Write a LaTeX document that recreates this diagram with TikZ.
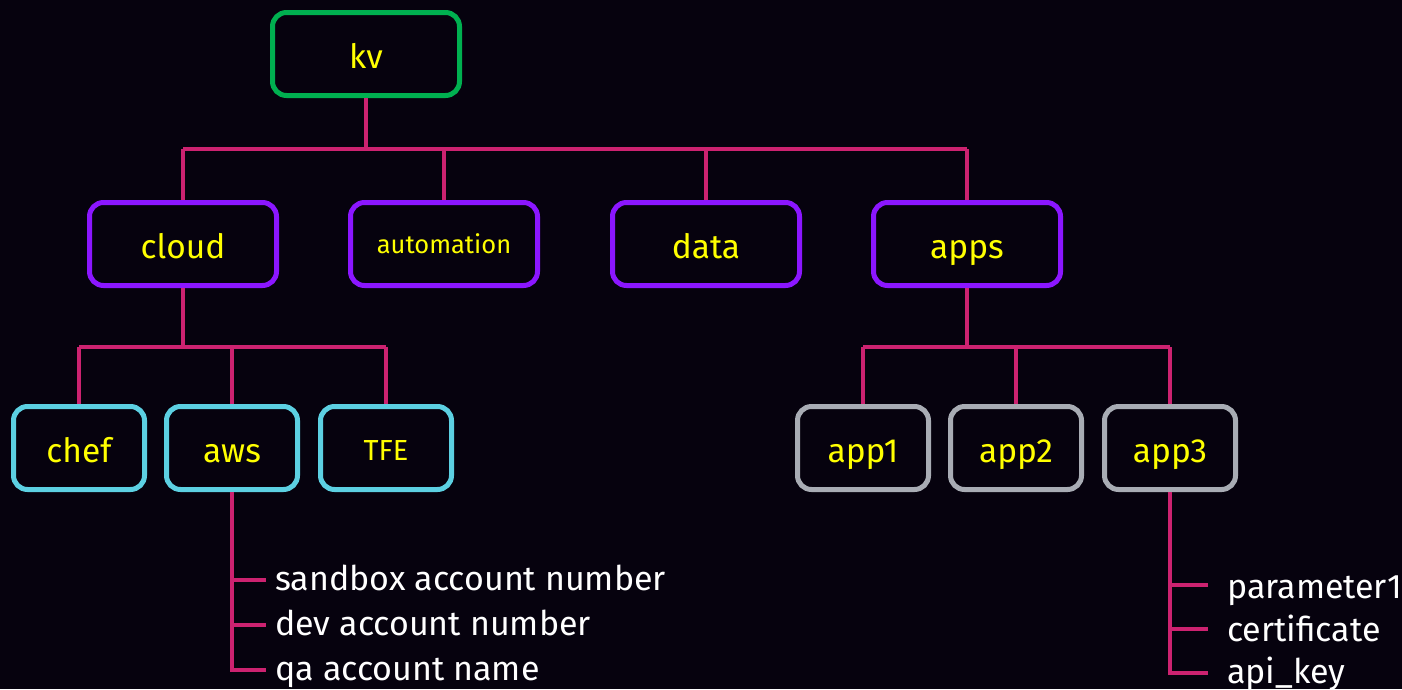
\documentclass[tikz,border=0pt]{standalone}
\usepackage{fontspec}
\setmainfont{Fira Sans}
\definecolor{bg}{RGB}{6,2,14}
\definecolor{kvgreen}{RGB}{0,176,80}
\definecolor{lvpurple}{RGB}{139,22,255}
\definecolor{lvcyan}{RGB}{92,208,226}
\definecolor{lvgrey}{RGB}{168,172,180}
\definecolor{wire}{RGB}{204,34,112}
\definecolor{lbl}{RGB}{255,255,0}
\tikzset{
  box/.style={draw, line width=5pt, rounded corners=14pt, fill=bg, text=lbl,
    font=\fontsize{33.5}{38}\selectfont, minimum width=187pt, minimum height=83pt, inner sep=0pt,
    text height=28pt, text depth=0pt},
  smallbox/.style={box, minimum width=131pt},
  wireline/.style={draw=wire, line width=4pt},
  item/.style={anchor=base west, inner sep=0pt, text=white, font=\fontsize{34}{38}\selectfont}
}
\begin{document}
\begin{tikzpicture}[x=1pt,y=-1pt]
\fill[bg] (0,0) rectangle (1402,689);
\useasboundingbox (0,0) rectangle (1402,689);
% level 0
\node[box, draw=kvgreen] (kv) at (366,54) {kv};
% level 1
\node[box, draw=lvpurple] (cloud) at (183,244) {cloud};
\node[box, draw=lvpurple, font=\fontsize{25.5}{30}\selectfont, text height=19pt] (automation) at (444,244) {automation};
\node[box, draw=lvpurple] (data) at (706,244) {data};
\node[box, draw=lvpurple] (apps) at (967,244) {apps};
% level 2
\node[smallbox, draw=lvcyan] (chef) at (79,448) {chef};
\node[smallbox, draw=lvcyan] (aws) at (232,448) {aws};
\node[smallbox, draw=lvcyan, font=\fontsize{29}{34}\selectfont, text height=24pt] (tfe) at (386,448) {TFE};
\node[smallbox, draw=lvgrey] (app1) at (863,448) {app1};
\node[smallbox, draw=lvgrey] (app2) at (1016,448) {app2};
\node[smallbox, draw=lvgrey] (app3) at (1170,448) {app3};
% junctions
\coordinate (j0) at (366,149);
\coordinate (j1) at (183,347);
\coordinate (j2) at (967,347);
% connectors
\path[wireline] (kv.south) -- (j0);
\path[wireline] (cloud.north |- j0) -- (apps.north |- j0);
\foreach \n in {cloud,automation,data,apps}{
  \path[wireline] (\n.north |- j0) -- (\n.north);
}
\path[wireline] (cloud.south) -- (j1);
\path[wireline] (chef.north |- j1) -- (tfe.north |- j1);
\foreach \n in {chef,aws,tfe}{
  \path[wireline] (\n.north |- j1) -- (\n.north);
}
\path[wireline] (apps.south) -- (j2);
\path[wireline] (app1.north |- j2) -- (app3.north |- j2);
\foreach \n in {app1,app2,app3}{
  \path[wireline] (\n.north |- j2) -- (\n.north);
}
% aws list
\node[item] (a1) at (275,590) {sandbox account number};
\node[item] (a2) at (275,635) {dev account number};
\node[item] (a3) at (275,680) {qa account name};
\coordinate (at1) at (266,580);
\coordinate (at2) at (266,625);
\coordinate (at3) at (266,670);
\path[wireline] (aws.south) |- (at3);
\path[wireline] (aws.south |- at1) -- (at1);
\path[wireline] (aws.south |- at2) -- (at2);
% app3 list
\node[item] (p1) at (1227,598) {parameter1};
\node[item] (p2) at (1227,641) {certificate};
\node[item] (p3) at (1227,683) {api\_key};
\coordinate (pt1) at (1208,585);
\coordinate (pt2) at (1208,629);
\coordinate (pt3) at (1208,673);
\path[wireline] (app3.south) |- (pt3);
\path[wireline] (app3.south |- pt1) -- (pt1);
\path[wireline] (app3.south |- pt2) -- (pt2);
\end{tikzpicture}
\end{document}
